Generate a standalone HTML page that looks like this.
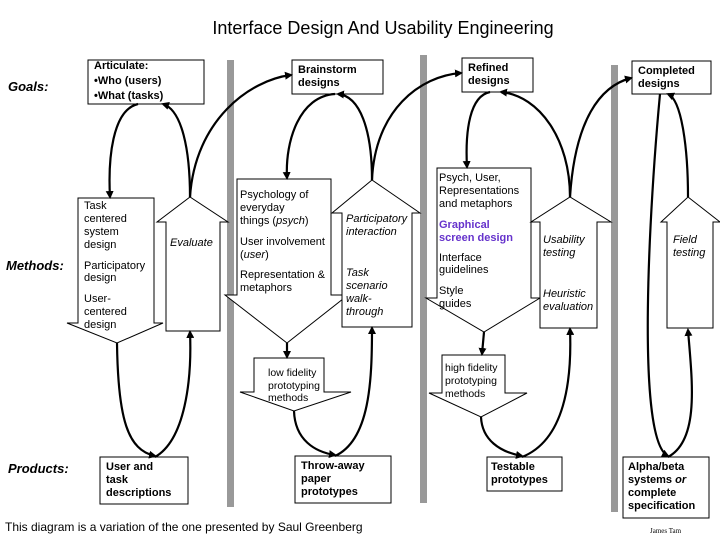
<!DOCTYPE html>
<html><head><meta charset="utf-8"><style>
html,body{margin:0;padding:0;background:#fff;}
svg{display:block;font-family:"Liberation Sans",sans-serif;}
.t{font-size:11px;fill:#000;}
.b{font-size:11px;font-weight:bold;}
.i{font-style:italic;}
.c{fill:none;stroke:#000;stroke-width:2.2;}
.s{fill:#fff;stroke:#000;stroke-width:1;}
</style></head><body>
<svg width="720" height="540" viewBox="0 0 720 540" xmlns="http://www.w3.org/2000/svg">
<defs><marker id="a" markerWidth="8" markerHeight="8" refX="6" refY="4" orient="auto" markerUnits="userSpaceOnUse"><path d="M0,0 L8,4 L0,8 z" fill="#000"/></marker></defs>
<text x="383" y="34" text-anchor="middle" font-size="18">Interface Design And Usability Engineering</text>
<rect x="227" y="60" width="7" height="447" fill="#999"/>
<rect x="420" y="55" width="7" height="448" fill="#999"/>
<rect x="611" y="65" width="7" height="447" fill="#999"/>
<text x="8" y="91" font-size="13" font-weight="bold" font-style="italic">Goals:</text>
<text x="6" y="270" font-size="13" font-weight="bold" font-style="italic">Methods:</text>
<text x="8" y="473" font-size="13" font-weight="bold" font-style="italic">Products:</text>
<rect class="s" x="88" y="60" width="116" height="44"/>
<text class="t b" x="94" y="69">Articulate:</text><text class="t b" x="94" y="84">•Who (users)</text><text class="t b" x="94" y="99">•What (tasks)</text>
<rect class="s" x="292" y="60" width="91" height="34"/>
<text class="t b" x="298" y="73">Brainstorm</text><text class="t b" x="298" y="86">designs</text>
<rect class="s" x="462" y="58" width="71" height="34"/>
<text class="t b" x="468" y="71" fill="#6633cc">Refined</text><text class="t b" x="468" y="84" fill="#6633cc">designs</text>
<rect class="s" x="632" y="61" width="79" height="33"/>
<text class="t b" x="638" y="74">Completed</text><text class="t b" x="638" y="87">designs</text>
<path class="s" d="M78,198 L154,198 L154,323 L163,323 L117,343 L67,323 L78,323 Z"/>
<path class="s" d="M166,331 L220,331 L220,222 L228,222 L190,197 L157,222 L166,222 Z"/>
<path class="s" d="M237,179 L331,179 L331,295 L348,295 L287,343 L225,295 L237,295 Z"/>
<path class="s" d="M342,327 L412,327 L412,213 L420,213 L372,180 L332,213 L342,213 Z"/>
<path class="s" d="M437,168 L531,168 L531,298 L540,298 L484,332 L426,298 L437,298 Z"/>
<path class="s" d="M540,328 L597,328 L597,222 L611,222 L570,197 L531,222 L540,222 Z"/>
<path class="s" d="M667,328 L713,328 L713,222 L720,222 L688,197 L661,222 L667,222 Z"/>
<path class="s" d="M254,358 L324,358 L324,392 L351,392 L294,411 L240,392 L254,392 Z"/>
<path class="s" d="M442,355 L505,355 L505,393 L527,393 L481,417 L429,393 L442,393 Z"/>
<g class="t">
<text x="84" y="209">Task</text><text x="84" y="222">centered</text><text x="84" y="235">system</text><text x="84" y="248">design</text>
<text x="84" y="269">Participatory</text><text x="84" y="281">design</text>
<text x="84" y="302">User-</text><text x="84" y="315">centered</text><text x="84" y="328">design</text>
<text x="170" y="246" class="i">Evaluate</text>
<text x="240" y="198">Psychology of</text><text x="240" y="211">everyday</text><text x="240" y="224">things (<tspan class="i">psych</tspan>)</text>
<text x="240" y="245">User involvement</text><text x="240" y="258">(<tspan class="i">user</tspan>)</text>
<text x="240" y="278">Representation &amp;</text><text x="240" y="291">metaphors</text>
<text x="346" y="222" class="i">Participatory</text><text x="346" y="235" class="i">interaction</text>
<text x="346" y="276" class="i">Task</text><text x="346" y="289" class="i">scenario</text><text x="346" y="302" class="i">walk-</text><text x="346" y="315" class="i">through</text>
<text x="439" y="181">Psych, User,</text><text x="439" y="194">Representations</text><text x="439" y="207">and metaphors</text>
<text x="439" y="228" class="b" fill="#6633cc">Graphical</text><text x="439" y="241" class="b" fill="#6633cc">screen design</text>
<text x="439" y="261">Interface</text><text x="439" y="273">guidelines</text>
<text x="439" y="294">Style</text><text x="439" y="307">guides</text>
<text x="543" y="243" class="i">Usability</text><text x="543" y="256" class="i">testing</text>
<text x="543" y="297" class="i">Heuristic</text><text x="543" y="310" class="i">evaluation</text>
<text x="673" y="243" class="i">Field</text><text x="673" y="256" class="i">testing</text>
<text x="268" y="376" font-size="10.5">low fidelity</text><text x="268" y="389" font-size="10.5">prototyping</text><text x="268" y="401" font-size="10.5">methods</text>
<text x="445" y="371" font-size="10.5">high fidelity</text><text x="445" y="384" font-size="10.5">prototyping</text><text x="445" y="397" font-size="10.5">methods</text>
</g>
<rect class="s" x="100" y="457" width="88" height="47"/>
<text class="t b" x="106" y="470">User and</text><text class="t b" x="106" y="483">task</text><text class="t b" x="106" y="496">descriptions</text>
<rect class="s" x="295" y="456" width="96" height="47"/>
<text class="t b" x="301" y="469">Throw-away</text><text class="t b" x="301" y="482">paper</text><text class="t b" x="301" y="495">prototypes</text>
<rect class="s" x="487" y="457" width="75" height="34"/>
<text class="t b" x="491" y="470">Testable</text><text class="t b" x="491" y="483">prototypes</text>
<rect class="s" x="623" y="457" width="86" height="61"/>
<text class="t b" x="628" y="470">Alpha/beta</text><text class="t b" x="628" y="483">systems <tspan class="i">or</tspan></text><text class="t b" x="628" y="496">complete</text><text class="t b" x="628" y="509">specification</text>
<g class="c">
<path d="M138,104 C112,110 108,160 110,197" marker-end="url(#a)"/>
<path d="M190,197 C190,150 182,110 163,104" marker-end="url(#a)"/>
<path d="M190,197 C195,120 250,80 291,75" marker-end="url(#a)"/>
<path d="M335,94 C300,96 285,140 287,178" marker-end="url(#a)"/>
<path d="M372,180 C372,130 360,96 338,94" marker-end="url(#a)"/>
<path d="M372,180 C375,110 420,76 461,73" marker-end="url(#a)"/>
<path d="M490,92 C470,96 465,130 467,167" marker-end="url(#a)"/>
<path d="M570,197 C570,140 540,96 501,92" marker-end="url(#a)"/>
<path d="M570,197 C575,120 600,86 631,78" marker-end="url(#a)"/>
<path d="M688,197 C688,150 682,100 668,94" marker-end="url(#a)"/>
<path d="M660,94 C650,200 635,440 668,456" marker-end="url(#a)"/>
<path d="M668,457 C700,440 692,380 688,330" marker-end="url(#a)"/>
<path d="M117,343 C118,420 128,450 155,456" marker-end="url(#a)"/>
<path d="M155,457 C185,440 192,380 190,332" marker-end="url(#a)"/>
<path d="M287,343 L287,357" marker-end="url(#a)"/>
<path d="M294,411 C295,440 315,452 335,455" marker-end="url(#a)"/>
<path d="M335,456 C370,440 372,380 372,328" marker-end="url(#a)"/>
<path d="M484,332 L482,354" marker-end="url(#a)"/>
<path d="M481,417 C482,440 500,452 522,456" marker-end="url(#a)"/>
<path d="M522,457 C565,440 572,380 570,329" marker-end="url(#a)"/>
</g>
<text x="5" y="531" font-size="12">This diagram is a variation of the one presented by Saul Greenberg</text>
<text x="650" y="533" font-size="7" font-family="Liberation Serif,serif">James Tam</text>
</svg>
</body></html>
